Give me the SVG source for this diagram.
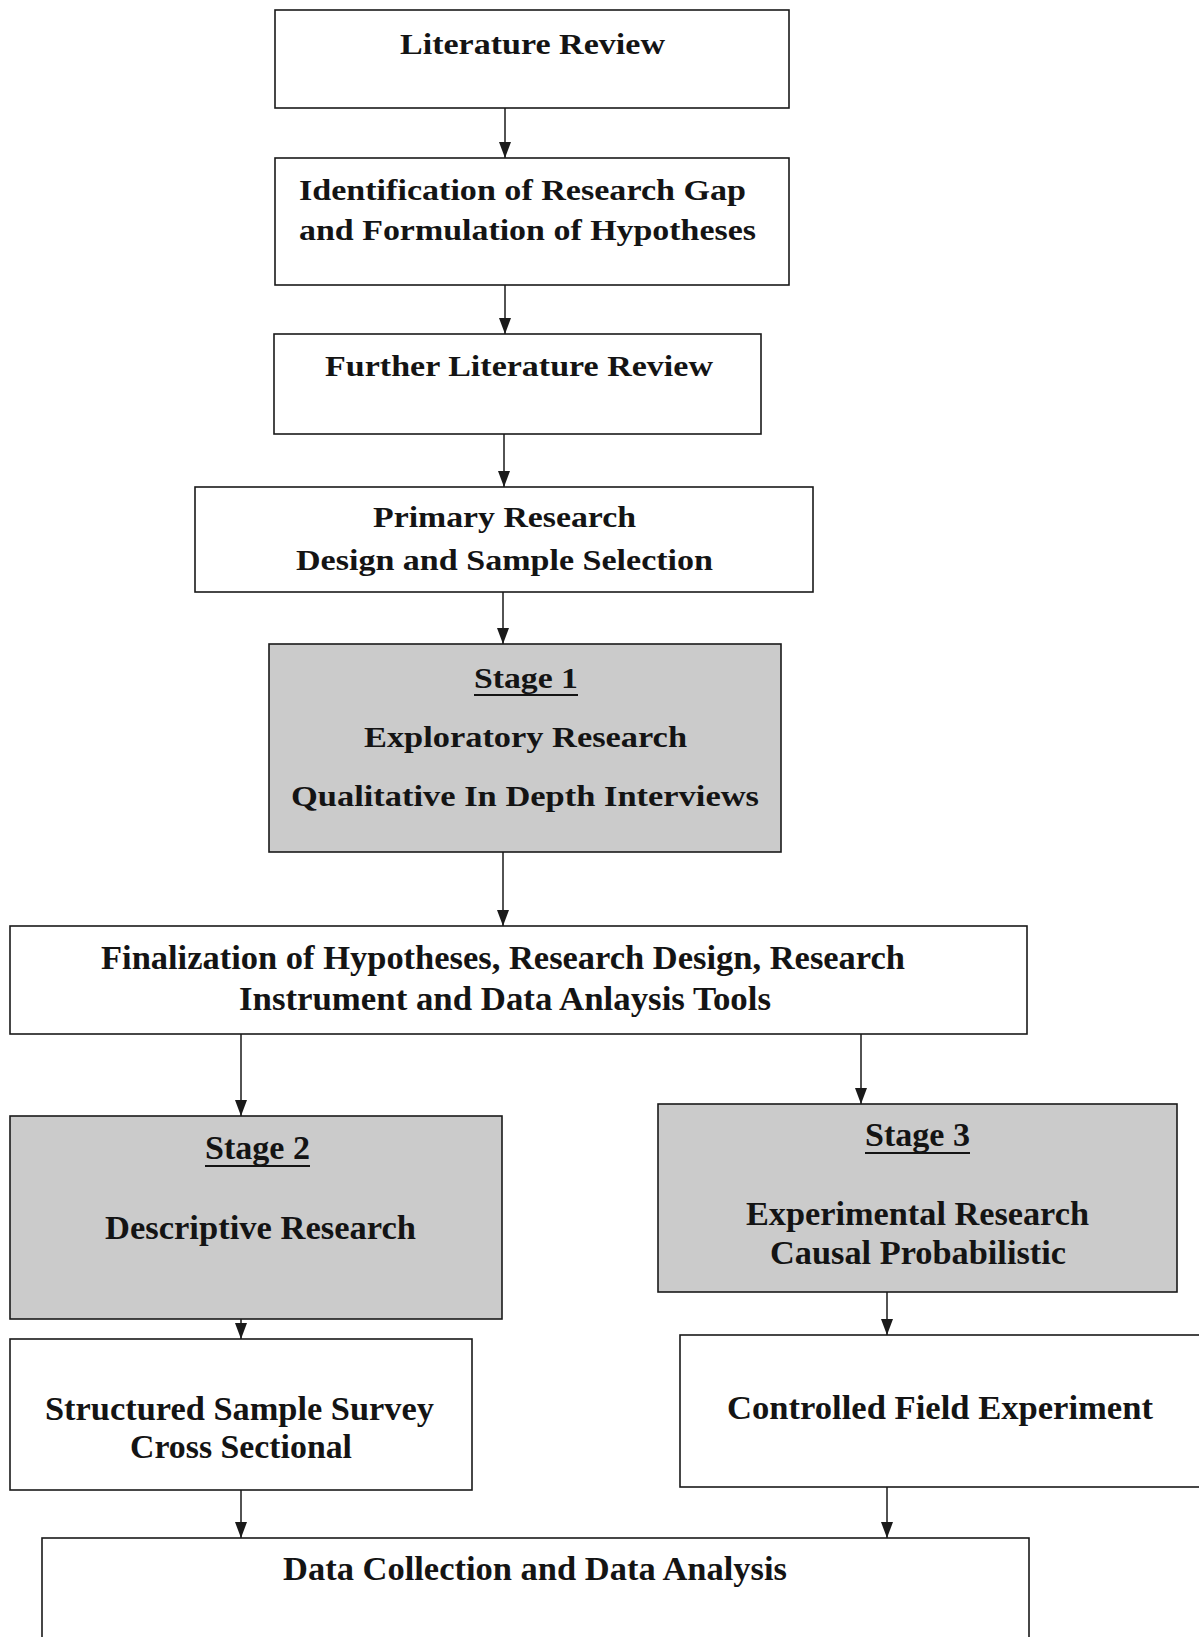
<svg xmlns="http://www.w3.org/2000/svg" width="1199" height="1637" viewBox="0 0 1199 1637">
<style>
.box{fill:#ffffff;stroke:#1a1a1a;stroke-width:1.6}
.gray{fill:#cbcbcb;stroke:#1a1a1a;stroke-width:1.6}
.t{font-family:"Liberation Serif","Times New Roman",serif;font-weight:bold;font-size:29px;fill:#141414}
.t2{font-family:"Liberation Serif","Times New Roman",serif;font-weight:bold;font-size:33px;fill:#141414}
.ul{stroke:#141414;stroke-width:2}
.conn{stroke:#1a1a1a;stroke-width:1.5;fill:none}
</style>
<defs>
<marker id="ah" viewBox="0 0 16 12" refX="16" refY="6" markerWidth="16" markerHeight="12" markerUnits="userSpaceOnUse" orient="auto">
<path d="M0,0 L16,6 L0,12 Z" fill="#1a1a1a"/>
</marker>
</defs>
<rect width="1199" height="1637" fill="#ffffff"/>

<g id="n1">
<rect class="box" x="275" y="10" width="514" height="98"/>
<text class="t" x="400" y="54" textLength="265" lengthAdjust="spacingAndGlyphs">Literature Review</text>
</g>
<g id="n2">
<rect class="box" x="275" y="158" width="514" height="127"/>
<text class="t" x="299" y="200" textLength="447" lengthAdjust="spacingAndGlyphs">Identification of Research Gap</text>
<text class="t" x="299" y="240" textLength="457" lengthAdjust="spacingAndGlyphs">and Formulation of Hypotheses</text>
</g>
<g id="n3">
<rect class="box" x="274" y="334" width="487" height="100"/>
<text class="t" x="325" y="376" textLength="388" lengthAdjust="spacingAndGlyphs">Further Literature Review</text>
</g>
<g id="n4">
<rect class="box" x="195" y="487" width="618" height="105"/>
<text class="t" x="373" y="527" textLength="263" lengthAdjust="spacingAndGlyphs">Primary Research</text>
<text class="t" x="296" y="570" textLength="417" lengthAdjust="spacingAndGlyphs">Design and Sample Selection</text>
</g>
<g id="n5">
<rect class="gray" x="269" y="644" width="512" height="208"/>
<text class="t" x="474" y="688" textLength="104" lengthAdjust="spacingAndGlyphs">Stage 1</text>
<line class="ul" x1="474" y1="695" x2="578" y2="695"/>
<text class="t" x="364" y="747" textLength="323" lengthAdjust="spacingAndGlyphs">Exploratory Research</text>
<text class="t" x="291" y="806" textLength="468" lengthAdjust="spacingAndGlyphs">Qualitative In Depth Interviews</text>
</g>
<g id="n6">
<rect class="box" x="10" y="926" width="1017" height="108"/>
<text class="t2" x="101" y="969" textLength="804" lengthAdjust="spacingAndGlyphs">Finalization of Hypotheses, Research Design, Research</text>
<text class="t2" x="239" y="1010" textLength="532" lengthAdjust="spacingAndGlyphs">Instrument and Data Anlaysis Tools</text>
</g>
<g id="n7">
<rect class="gray" x="10" y="1116" width="492" height="203"/>
<text class="t2" x="205" y="1159" textLength="105" lengthAdjust="spacingAndGlyphs">Stage 2</text>
<line class="ul" x1="205" y1="1166" x2="310" y2="1166"/>
<text class="t2" x="105" y="1239" textLength="311" lengthAdjust="spacingAndGlyphs">Descriptive Research</text>
</g>
<g id="n8">
<rect class="gray" x="658" y="1104" width="519" height="188"/>
<text class="t2" x="865" y="1146" textLength="105" lengthAdjust="spacingAndGlyphs">Stage 3</text>
<line class="ul" x1="865" y1="1153" x2="970" y2="1153"/>
<text class="t2" x="746" y="1225" textLength="343" lengthAdjust="spacingAndGlyphs">Experimental Research</text>
<text class="t2" x="770" y="1264" textLength="296" lengthAdjust="spacingAndGlyphs">Causal Probabilistic</text>
</g>
<g id="n9">
<rect class="box" x="10" y="1339" width="462" height="151"/>
<text class="t2" x="45" y="1420" textLength="389" lengthAdjust="spacingAndGlyphs">Structured Sample Survey</text>
<text class="t2" x="130" y="1458" textLength="222" lengthAdjust="spacingAndGlyphs">Cross Sectional</text>
</g>
<g id="n10">
<rect class="box" x="680" y="1335" width="530" height="152"/>
<text class="t2" x="727" y="1419" textLength="426" lengthAdjust="spacingAndGlyphs">Controlled Field Experiment</text>
</g>
<g id="n11">
<rect class="box" x="42" y="1538" width="987" height="110"/>
<text class="t2" x="283" y="1580" textLength="504" lengthAdjust="spacingAndGlyphs">Data Collection and Data Analysis</text>
</g>

<g id="connectors">
<line class="conn" x1="505" y1="108" x2="505" y2="158" marker-end="url(#ah)"/>
<line class="conn" x1="505" y1="285" x2="505" y2="334" marker-end="url(#ah)"/>
<line class="conn" x1="504" y1="434" x2="504" y2="487" marker-end="url(#ah)"/>
<line class="conn" x1="503" y1="592" x2="503" y2="644" marker-end="url(#ah)"/>
<line class="conn" x1="503" y1="852" x2="503" y2="926" marker-end="url(#ah)"/>
<line class="conn" x1="241" y1="1034" x2="241" y2="1116" marker-end="url(#ah)"/>
<line class="conn" x1="861" y1="1034" x2="861" y2="1104" marker-end="url(#ah)"/>
<line class="conn" x1="241" y1="1319" x2="241" y2="1339" marker-end="url(#ah)"/>
<line class="conn" x1="887" y1="1292" x2="887" y2="1335" marker-end="url(#ah)"/>
<line class="conn" x1="241" y1="1490" x2="241" y2="1538" marker-end="url(#ah)"/>
<line class="conn" x1="887" y1="1487" x2="887" y2="1538" marker-end="url(#ah)"/>
</g>
</svg>
